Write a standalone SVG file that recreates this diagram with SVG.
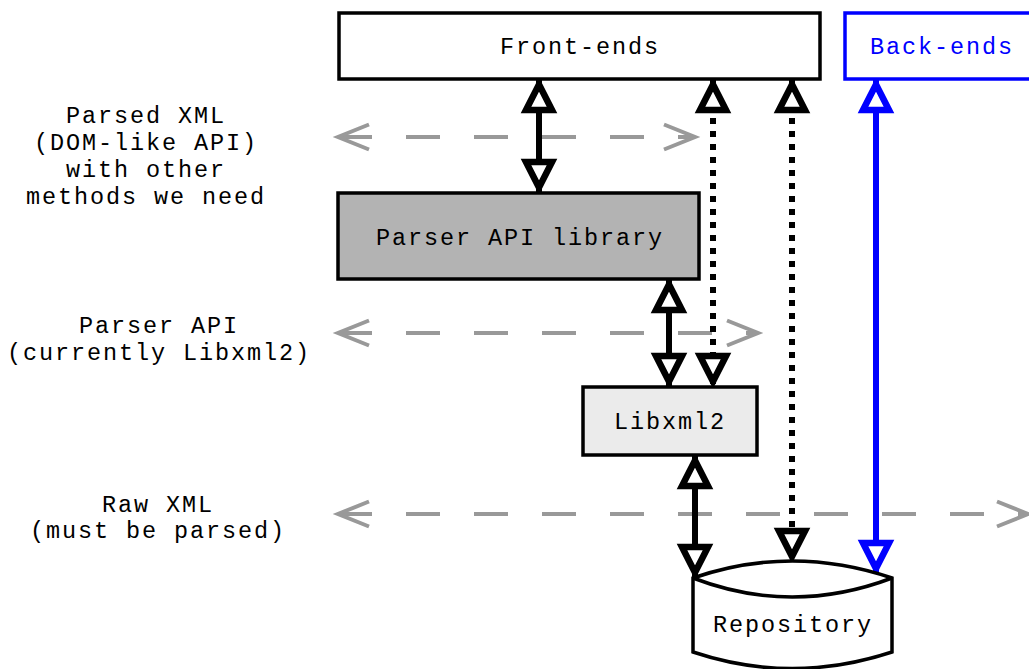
<svg xmlns="http://www.w3.org/2000/svg" width="1029" height="669" viewBox="0 0 1029 669">
<style>
text{font-family:"Liberation Mono","Courier New",monospace;font-size:23.5px;letter-spacing:1.9px;fill:#000;text-anchor:middle}
.box{stroke:#000;stroke-width:3.5;fill:#fff}
.gray{stroke:#999;stroke-width:4;fill:none;stroke-dasharray:34 34}
.solid{stroke:#000;stroke-width:6;fill:none}
.dot{stroke:#000;stroke-width:6;fill:none;stroke-dasharray:6 7}
.blue{stroke:#0000ff;stroke-width:6;fill:none}
</style>
<defs>
<marker id="tri" markerUnits="userSpaceOnUse" viewBox="-40 -20 45 40" refX="0" refY="0" markerWidth="45" markerHeight="40" orient="auto-start-reverse" overflow="visible">
<path d="M-5.5,0 L-31,-13 L-31,13 Z" fill="#fff" stroke="#000" stroke-width="6.5"/>
</marker>
<marker id="triB" markerUnits="userSpaceOnUse" viewBox="-40 -20 45 40" refX="0" refY="0" markerWidth="45" markerHeight="40" orient="auto-start-reverse" overflow="visible">
<path d="M-5.5,0 L-31,-13 L-31,13 Z" fill="#fff" stroke="#0000ff" stroke-width="6.5"/>
</marker>
<marker id="chev" markerUnits="userSpaceOnUse" viewBox="-40 -20 45 40" refX="0" refY="0" markerWidth="45" markerHeight="40" orient="auto-start-reverse" overflow="visible">
<path d="M-31,-12.5 L0,0 L-31,12.5" fill="none" stroke="#999" stroke-width="4"/>
</marker>
</defs>
<rect width="1029" height="669" fill="#fff"/>

<g id="labels">
<text x="146" y="123">Parsed XML</text>
<text x="146" y="150">(DOM-like API)</text>
<text x="146" y="177">with other</text>
<text x="146" y="204">methods we need</text>
<text x="159" y="333">Parser API</text>
<text x="159" y="360">(currently Libxml2)</text>
<text x="158" y="512">Raw XML</text>
<text x="158" y="538">(must be parsed)</text>
</g>

<g id="connectors">
<path class="gray" d="M338,137 H695" marker-start="url(#chev)" marker-end="url(#chev)"/>
<path class="gray" d="M338,333 H758" marker-start="url(#chev)" marker-end="url(#chev)"/>
<path class="gray" d="M338,514 H1028" marker-start="url(#chev)" marker-end="url(#chev)"/>
<path class="solid" d="M539,79 V193" marker-start="url(#tri)" marker-end="url(#tri)"/>
<path class="dot" d="M713,79 V387" marker-start="url(#tri)" marker-end="url(#tri)"/>
<path class="dot" d="M792,79 V562" marker-start="url(#tri)" marker-end="url(#tri)"/>
<path class="blue" d="M876,79 V574" marker-start="url(#triB)" marker-end="url(#triB)"/>
<path class="solid" d="M669,279 V387" marker-start="url(#tri)" marker-end="url(#tri)"/>
<path class="solid" d="M695,455 V578" marker-start="url(#tri)" marker-end="url(#tri)"/>
</g>

<g id="frontends">
<rect class="box" x="339" y="13" width="481" height="66"/>
<text x="580" y="54">Front-ends</text>
</g>
<g id="backends">
<rect x="845" y="13" width="195" height="66" fill="#fff" stroke="#0000ff" stroke-width="3.5"/>
<text x="942" y="54" style="fill:#0000ff">Back-ends</text>
</g>
<g id="parserlib">
<rect class="box" x="338" y="193" width="361" height="86" style="fill:#b3b3b3"/>
<text x="520" y="245">Parser API library</text>
</g>
<g id="libxml2">
<rect class="box" x="583" y="387" width="174" height="68" style="fill:#ebebeb"/>
<text x="670" y="429">Libxml2</text>
</g>
<g id="repository">
<path class="box" d="M693,578 Q792,544 892,578 V652 Q792,685 693,652 Z"/>
<path d="M693,578 Q792,616 892,578" fill="none" stroke="#000" stroke-width="3.5"/>
<text x="793" y="632">Repository</text>
</g>
</svg>
